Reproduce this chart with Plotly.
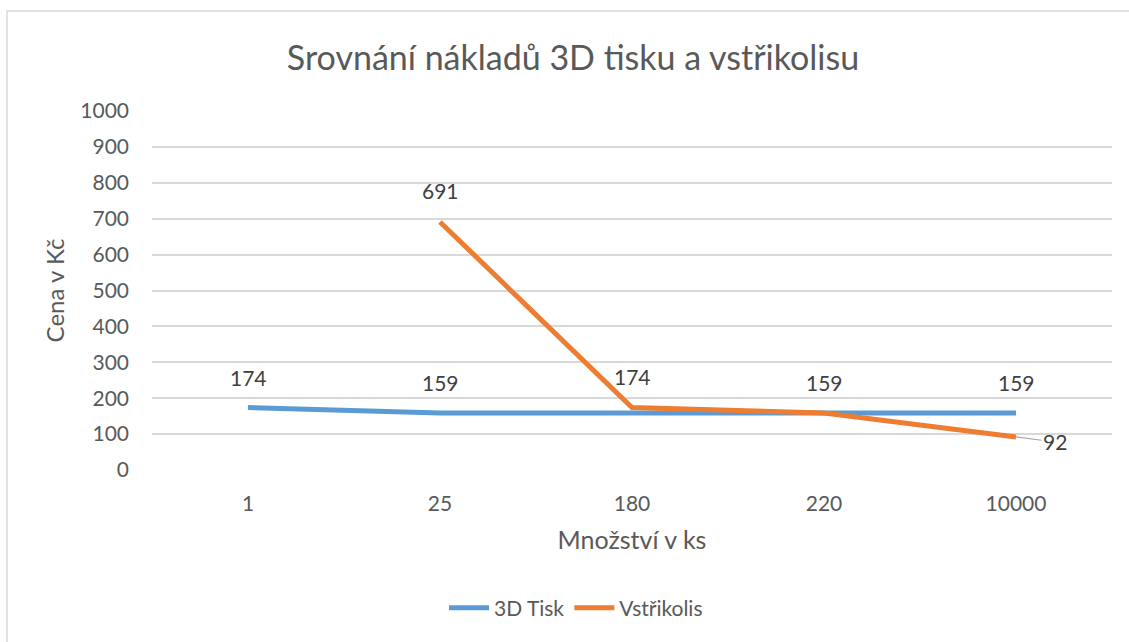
import plotly.graph_objects as go

# Category axis (quantities) and costs per piece
quantities = ["1", "25", "180", "220", "10000"]
tisk_3d = [174, 159, 159, 159, 159]
vstrikolis = [None, 691, 174, 159, 92]

# Which points carry a value label
tisk_labels = [True, True, False, True, True]
vstrik_labels = [False, True, True, False, False]

series_names = ["3D Tisk", "Vstřikolis"]
colors = ["#5B9BD5", "#ED7D31"]

FONT = "Lato"
TXT = "#595959"
LBL = "#404040"

# Categories are placed at integer positions, labelled with the quantities
pos = list(range(len(quantities)))

fig = go.Figure()
fig.add_trace(go.Scatter(
    x=pos, y=tisk_3d, name=series_names[0], mode="lines",
    line=dict(color=colors[0], width=5), hoverinfo="y",
))
fig.add_trace(go.Scatter(
    x=pos, y=vstrikolis, name=series_names[1], mode="lines",
    line=dict(color=colors[1], width=5), hoverinfo="y",
))

LBL_FONT = dict(family=FONT, size=21, color=LBL)
annotations = []
for p, v, show in zip(pos, tisk_3d, tisk_labels):
    if show:
        annotations.append(dict(x=p, y=v, text=str(v), showarrow=False,
                                yshift=30, font=LBL_FONT))
for p, v, show in zip(pos, vstrikolis, vstrik_labels):
    if show and v is not None:
        annotations.append(dict(x=p, y=v, text=str(v), showarrow=False,
                                yshift=31, font=LBL_FONT))
# Last injection-moulding point: label offset to the right with a leader line
annotations.append(dict(
    x=pos[-1], y=vstrikolis[-1], text=str(vstrikolis[-1]),
    showarrow=True, arrowhead=0, arrowwidth=1.2, arrowcolor="#A6A6A6",
    ax=39, ay=5, xanchor="center", yanchor="middle",
    font=LBL_FONT,
))

L, R, T, B = 152, 17, 111, 172
W, H = 1129, 642
pw, ph = W - L - R, H - T - B

def px_x(px):
    return (px - L) / pw

def px_y(py):
    return (H - B - py) / ph

fig.update_layout(
    width=W, height=H,
    margin=dict(l=L, r=R, t=T, b=B),
    paper_bgcolor="white", plot_bgcolor="white",
    font=dict(family=FONT, color=TXT),
    title=dict(text="Srovnání nákladů 3D tisku a vstřikolisu",
               x=573 / W, xanchor="center", y=1 - 58 / H, yanchor="middle",
               font=dict(family=FONT, size=34, color=TXT)),
    showlegend=True,
    legend=dict(orientation="h", x=px_x(576), xanchor="center",
                y=px_y(608), yanchor="middle",
                font=dict(family=FONT, size=21, color=TXT),
                itemwidth=40, tracegroupgap=0),
    annotations=annotations,
    shapes=[dict(type="rect", xref="paper", yref="paper",
                 x0=px_x(7), x1=px_x(1140), y0=px_y(660), y1=px_y(11),
                 line=dict(color="#D9D9D9", width=1.5), layer="below")],
)

fig.update_xaxes(
    range=[-0.5, len(quantities) - 0.5], tickmode="array",
    tickvals=pos, ticktext=quantities,
    showgrid=False, zeroline=False, showline=False, ticks="",
    tickfont=dict(family=FONT, size=21, color=TXT), ticklabelstandoff=19,
    title=dict(text="Množství v ks", font=dict(family=FONT, size=25, color=TXT), standoff=17),
)
fig.update_yaxes(
    range=[0, 1000], dtick=100, showgrid=True, gridcolor="#D9D9D9", gridwidth=1.5,
    zeroline=False, showline=False, ticks="",
    tickfont=dict(family=FONT, size=21, color=TXT), ticklabelstandoff=22,
    title=dict(text="Cena v Kč", font=dict(family=FONT, size=24, color=TXT), standoff=8),
)

fig.write_html("out.html")
